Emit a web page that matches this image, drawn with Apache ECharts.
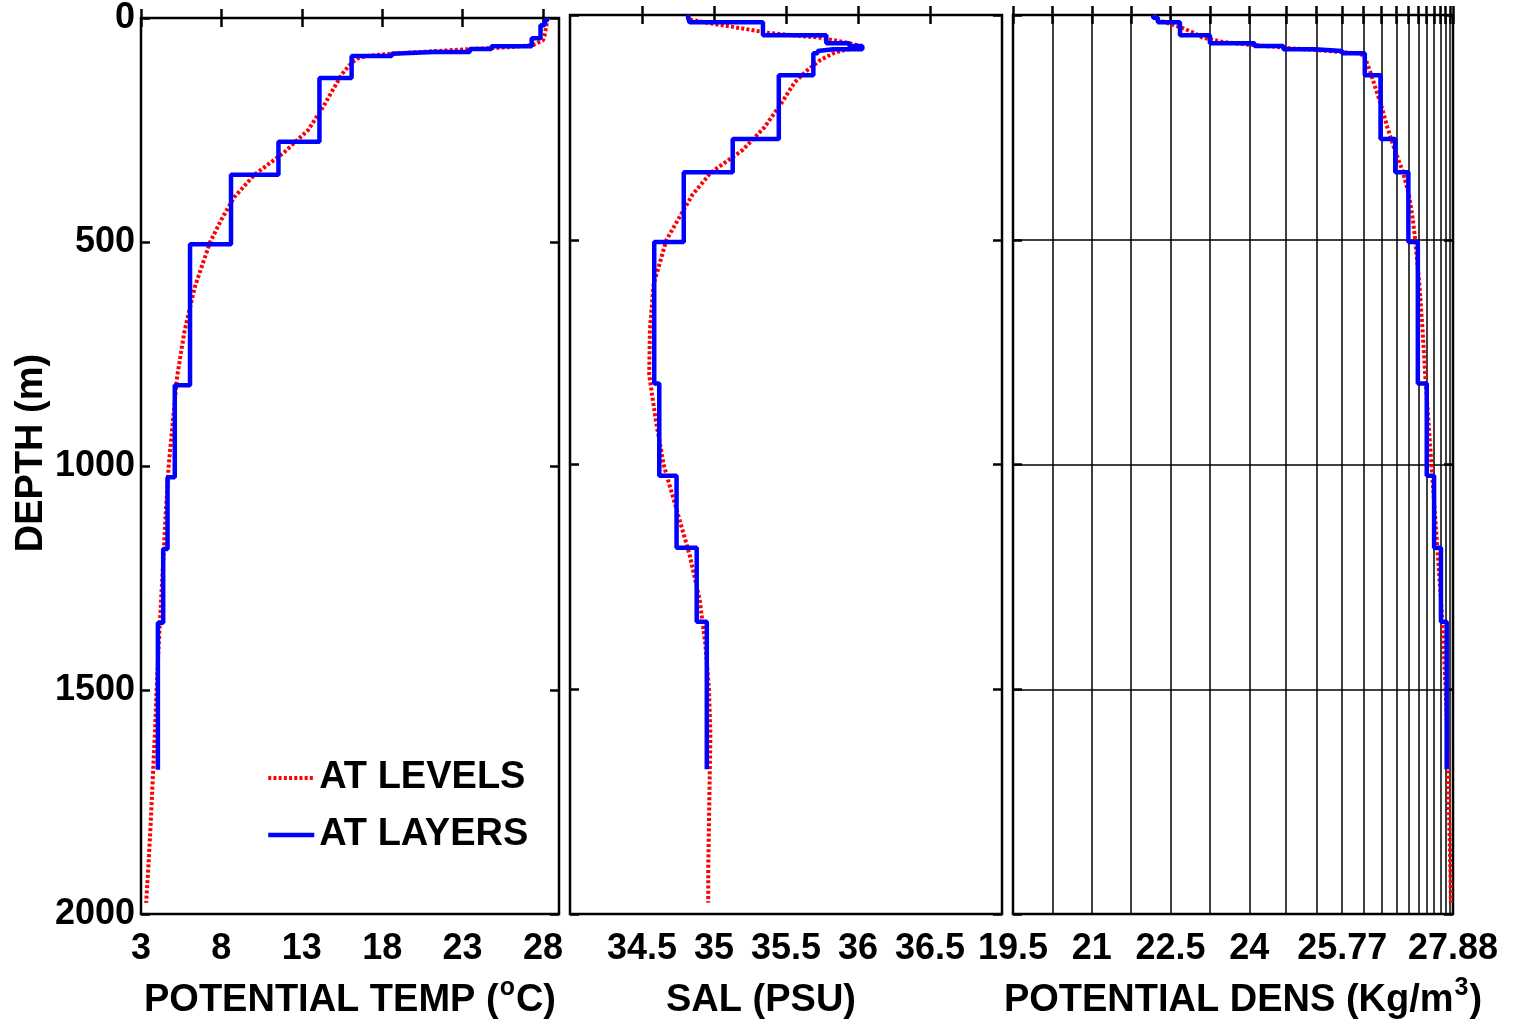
<!DOCTYPE html>
<html>
<head>
<meta charset="utf-8">
<title>Profiles at levels and layers</title>
<script src="https://cdn.jsdelivr.net/npm/echarts@6/dist/echarts.min.js"></script>
<style>
  html, body { margin: 0; padding: 0; background: #fff; }
  #chart { width: 1516px; height: 1026px; }
</style>
</head>
<body>
<div id="chart"></div>
<script>
// profile at model levels (red dotted)
const levelDepth = [0, 10, 20, 30, 40, 50, 60, 65, 70, 75, 80, 85, 90, 100, 125, 150, 200, 250, 300, 350,
  400, 450, 500, 600, 700, 800, 900, 1000, 1100, 1200, 1300, 1400, 1500, 1600, 1700, 1800, 1900, 1975]
const levelTemp = [28.3, 28.25, 28.2, 28.15, 28.1, 28.0, 27.4, 26.0, 23.2, 20.8, 18.5, 17.0, 16.5, 16.1, 15.5, 15.1, 14.3, 13.4, 11.9, 10.05,
  8.8, 8.0, 7.3, 6.35, 5.7, 5.25, 4.98, 4.72, 4.55, 4.4, 4.25, 4.1, 3.97, 3.86, 3.73, 3.6, 3.45, 3.32]
const levelSal = [34.82, 34.83, 35.0, 35.2, 35.38, 35.72, 35.9, 35.97, 36.03, 35.96, 35.88, 35.83, 35.8, 35.74, 35.64, 35.56, 35.46, 35.35, 35.2, 34.98,
  34.85, 34.76, 34.67, 34.58, 34.555, 34.55, 34.595, 34.65, 34.74, 34.83, 34.9, 34.94, 34.965, 34.975, 34.97, 34.965, 34.96, 34.96]
const levelDens = [22.18, 22.24, 22.5, 22.75, 22.95, 23.1, 23.5, 23.9, 24.4, 24.9, 25.5, 26.05, 26.18, 26.22, 26.3, 26.37, 26.51, 26.63, 26.77, 26.93,
  27.04, 27.11, 27.16, 27.24, 27.3, 27.35, 27.41, 27.47, 27.53, 27.59, 27.65, 27.7, 27.74, 27.77, 27.79, 27.81, 27.83, 27.84]

// layer interfaces (m) and layer means (blue steps)
const layerEdges = [0, 6, 16, 45, 63, 69, 76, 80, 85, 134, 276, 350, 505, 820, 1025, 1185, 1350, 1678]
const layerTemp = [28.25, 28.1, 27.85, 27.3, 24.8, 23.45, 21.2, 18.6, 16.1, 14.1, 11.55, 8.6, 6.05, 5.1, 4.65, 4.38, 4.05]
const layerSal = [34.82, 34.83, 35.34, 35.78, 35.94, 36.03, 35.83, 35.72, 35.69, 35.45, 35.13, 34.79, 34.585, 34.62, 34.74, 34.88, 34.95]
const layerDens = [22.17, 22.26, 22.68, 23.25, 24.1, 24.65, 25.25, 25.77, 26.2, 26.5, 26.78, 27.03, 27.21, 27.38, 27.52, 27.65, 27.76]

// ticks
const tempTicks = [3, 8, 13, 18, 23, 28]
const salTicks = [34.5, 35, 35.5, 36, 36.5]
const densTicks = [19.5, 20.25, 21, 21.75, 22.5, 23.25, 24, 24.7, 25.28, 25.77, 26.18, 26.52, 26.8, 27.03, 27.22, 27.38, 27.52, 27.64, 27.74, 27.82, 27.88]
const densLabels = [19.5, 21, 22.5, 24, 25.77, 27.88]

const font = 'Liberation Sans'
const red = '#ff0000'
const blue = '#0000ff'
const levelLine = { color: red, width: 4, type: [3, 2.2] }
const layerLine = { color: blue, width: 4.5 }
const tickStyle = { show: true, inside: true, length: 9, lineStyle: { color: '#000', width: 2.5 } }
const rich = {
  sup: { fontSize: 25, fontWeight: 'bold', fontFamily: font, color: '#000', lineHeight: 25, padding: [0, 1, 20, 1], verticalAlign: 'bottom' }
}

const levels = vals => levelDepth.map((d, i) => [vals[i], d])
const steps = vals => {
  const pts = []
  vals.forEach((v, i) => {
    pts.push([v, layerEdges[i]], [v, layerEdges[i + 1]])
  })
  return pts
}

const panels = [
  { left: 141, width: 418, min: 3, max: 29, ticks: tempTicks, labels: tempTicks,
    name: 'POTENTIAL TEMP ({sup|o}C)', namePad: [0, 0, 0, 0], lv: levelTemp, ly: layerTemp },
  { left: 570, width: 432, min: 34, max: 37, ticks: salTicks, labels: salTicks,
    name: 'SAL (PSU)', namePad: [0, 50, 0, 0], lv: levelSal, ly: layerSal },
  { left: 1013, width: 440, min: 19.5, max: 27.88, ticks: densTicks, labels: densLabels,
    name: 'POTENTIAL DENS (Kg/m{sup|3})', namePad: [0, 0, 0, 20], lv: levelDens, ly: layerDens, grid: true }
]

const grid = [], xAxis = [], yAxis = [], series = []

panels.forEach((p, i) => {
  grid.push({ left: p.left, width: p.width, top: 15, height: 899, show: true,
    borderColor: '#000', borderWidth: 2.5, backgroundColor: 'transparent' })

  xAxis.push({
    type: 'value', gridIndex: i, position: 'bottom', min: p.min, max: p.max,
    axisLine: { show: false },
    axisTick: { ...tickStyle, customValues: p.ticks },
    axisLabel: {
      customValues: p.labels, formatter: v => String(v), margin: 17,
      color: '#000', fontSize: 36, fontWeight: 'bold', fontFamily: font
    },
    splitLine: { show: !!p.grid, lineStyle: { color: '#000', width: 1.5 } },
    name: p.name, nameLocation: 'middle', nameGap: 67,
    nameTextStyle: { color: '#000', fontSize: 38, fontWeight: 'bold', fontFamily: font, lineHeight: 40, padding: p.namePad, rich }
  })
  xAxis.push({
    type: 'value', gridIndex: i, position: 'top', min: p.min, max: p.max,
    axisLine: { show: false },
    axisTick: { ...tickStyle, customValues: p.ticks },
    axisLabel: { show: false },
    splitLine: { show: false }
  })

  yAxis.push({
    type: 'value', gridIndex: i, position: 'left', inverse: true, min: 0, max: 2000, interval: 500,
    axisLine: { show: false },
    axisTick: tickStyle,
    axisLabel: { show: i === 0, margin: 6, formatter: v => String(v), color: '#000', fontSize: 36, fontWeight: 'bold', fontFamily: font },
    splitLine: { show: !!p.grid, lineStyle: { color: '#000', width: 1.5 } },
    name: i === 0 ? 'DEPTH (m)' : '', nameLocation: 'middle', nameGap: 88, nameRotate: 90,
    nameTextStyle: { color: '#000', fontSize: 38, fontWeight: 'bold', fontFamily: font, padding: [0, 0, 0, 26] }
  })
  yAxis.push({
    type: 'value', gridIndex: i, position: 'right', inverse: true, min: 0, max: 2000, interval: 500,
    axisLine: { show: false },
    axisTick: tickStyle,
    axisLabel: { show: false },
    splitLine: { show: false }
  })

  series.push({
    name: 'AT LEVELS', type: 'line', xAxisIndex: 2 * i, yAxisIndex: 2 * i,
    symbol: 'none', data: levels(p.lv), lineStyle: levelLine, itemStyle: { color: red }
  })
  series.push({
    name: 'AT LAYERS', type: 'line', xAxisIndex: 2 * i, yAxisIndex: 2 * i,
    symbol: 'none', data: steps(p.ly), lineStyle: layerLine, itemStyle: { color: blue }
  })
})

const chart = echarts.init(document.getElementById('chart'))
chart.setOption({
  animation: false,
  backgroundColor: '#fff',
  legend: {
    data: [
      { name: 'AT LEVELS', lineStyle: levelLine },
      { name: 'AT LAYERS', lineStyle: layerLine }
    ],
    orient: 'vertical', left: 266, top: 759, padding: 0, itemWidth: 46, itemHeight: 14, itemGap: 19,
    itemStyle: { opacity: 0 },
    textStyle: { color: '#000', fontSize: 38, fontWeight: 'bold', fontFamily: font }
  },
  grid, xAxis, yAxis, series
})
</script>
</body>
</html>
